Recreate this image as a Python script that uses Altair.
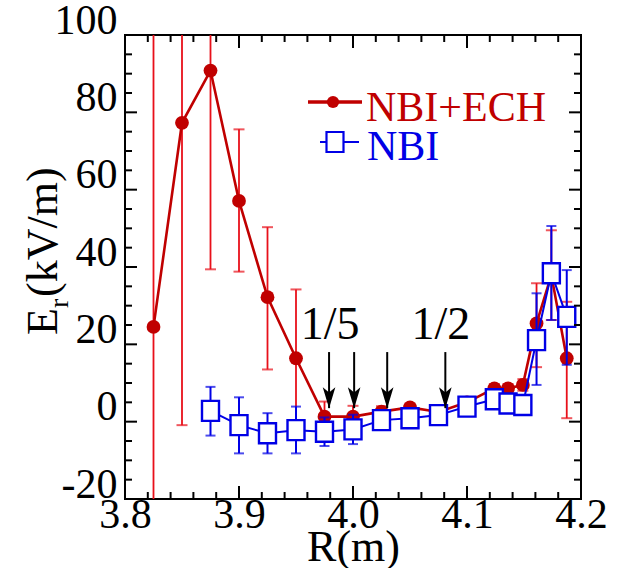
import altair as alt
import pandas as pd

# ---- radial electric field profiles -------------------------------------
# NBI+ECH
r_ech = [3.825, 3.85, 3.875, 3.9, 3.925, 3.95, 3.975, 4.0, 4.025, 4.05,
         4.075, 4.1, 4.124, 4.136, 4.149, 4.161, 4.174, 4.1875]
er_ech = [24.5, 77.3, 90.8, 57.1, 32.2, 16.4, 1.3, 1.3, 2.6, 3.7,
          2.5, 5.0, 8.6, 8.6, 9.5, 25.4, 37.9, 16.4]
lo_ech = [-55.0, -0.9, 39.4, 38.8, 13.5, -1.5, -2.6, -1.5, 1.2, 2.8,
          1.5, 4.0, 7.5, 7.5, 8.0, 14.1, 26.3, 0.9]
hi_ech = [105.0, 156.0, 142.0, 75.6, 50.3, 34.2, 5.2, 4.1, 4.0, 4.6,
          3.5, 6.0, 9.7, 9.7, 11.0, 35.8, 49.5, 31.0]

# NBI only
r_nbi = [3.875, 3.9, 3.925, 3.95, 3.975, 4.0, 4.025, 4.05, 4.075, 4.1,
         4.124, 4.136, 4.149, 4.161, 4.174, 4.1875]
er_nbi = [2.8, -0.9, -3.0, -2.2, -2.6, -2.0, 0.4, 0.9, 1.7, 3.9,
          5.8, 4.7, 4.3, 21.1, 38.4, 27.1]
lo_nbi = [-3.6, -8.2, -8.2, -8.2, -6.3, -5.8, -1.0, -0.5, 0.5, 2.5,
          4.5, 3.4, 3.0, 9.5, 26.3, 14.7]
hi_nbi = [9.0, 6.3, 2.2, 3.9, 1.1, 1.8, 1.8, 2.3, 2.9, 5.3,
          7.1, 6.0, 5.6, 33.2, 50.6, 39.2]

# rational surfaces marked with arrows
arrow_r = [3.979, 4.001, 4.030, 4.081]
arrow_top = 18.0
arrow_tip = 3.5
label_r = [3.980, 4.077]
label_txt = ["1/5", "1/2"]
label_y = 21.5

# axis ticks
x_major = [3.8, 3.9, 4.0, 4.1, 4.2]
x_minor = [3.82, 3.84, 3.86, 3.88, 3.92, 3.94, 3.96, 3.98,
           4.02, 4.04, 4.06, 4.08, 4.12, 4.14, 4.16, 4.18]
y_major = [-20, 0, 20, 40, 60, 80, 100]
y_minor = [-15, -10, -5, 5, 10, 15, 25, 30, 35, 45, 50, 55,
           65, 70, 75, 85, 90, 95]

# ---- styling ---------------------------------------------------------------
W, H = 456, 464
FONT = "'Liberation Serif', 'Times New Roman', Times, serif"
RED = "#c00000"
RED_BAR = "#e8101a"
BLUE = "#0000e6"
SQUARE = "M-0.85,-1H0.85V1H-0.85Z"
ARROWHEAD = "M0,0L-0.6,-2L0,-1.5L0.6,-2Z"

xs = alt.Scale(domain=[3.8, 4.2], nice=False, zero=False)
ys = alt.Scale(domain=[-20, 100], nice=False, zero=False)

x_axis = alt.Axis(values=x_major, labelExpr="format(datum.value, '.1f')",
                  ticks=False, domain=False, grid=False,
                  labelFont=FONT, labelFontSize=42, labelColor="black",
                  labelBaseline="alphabetic", labelPadding=28,
                  labelFlush=False, labelOverlap=False,
                  title="R(m)", titleFont=FONT, titleFontSize=44,
                  titleFontWeight="normal", titleColor="black",
                  titleBaseline="alphabetic", titleY=61, titleX=W / 2)
y_axis = alt.Axis(values=y_major, labelExpr="'' + datum.value",
                  ticks=False, domain=False, grid=False,
                  labelFont=FONT, labelFontSize=42, labelColor="black",
                  labelBaseline="alphabetic", labelPadding=8, labelOffset=-2,
                  labelFlush=False, labelOverlap=False, title="")

ech = pd.DataFrame({"R": r_ech, "Er": er_ech, "lo": lo_ech, "hi": hi_ech})
nbi = pd.DataFrame({"R": r_nbi, "Er": er_nbi, "lo": lo_nbi, "hi": hi_nbi})


def X(field):
    return alt.X(field, type="quantitative", scale=xs, axis=x_axis)


def Y(field):
    return alt.Y(field, type="quantitative", scale=ys, axis=y_axis)


# NBI+ECH series
ech_bars = alt.Chart(ech).mark_rule(color=RED_BAR, strokeWidth=1.8, clip=True).encode(
    x=X("R"), y=Y("lo"), y2="hi")
ech_caps_hi = alt.Chart(ech).mark_tick(color=RED_BAR, orient="horizontal", size=11,
                                       thickness=2, clip=True).encode(x=X("R"), y=Y("hi"))
ech_caps_lo = alt.Chart(ech).mark_tick(color=RED_BAR, orient="horizontal", size=11,
                                       thickness=2, clip=True).encode(x=X("R"), y=Y("lo"))
ech_line = alt.Chart(ech).mark_line(color=RED, strokeWidth=2.6, clip=True).encode(
    x=X("R"), y=Y("Er"))
ech_pts = alt.Chart(ech).mark_point(shape="circle", filled=True, fill=RED, size=190,
                                    opacity=1, clip=True).encode(x=X("R"), y=Y("Er"))

# NBI series
nbi_bars = alt.Chart(nbi).mark_rule(color=BLUE, strokeWidth=2, clip=True).encode(
    x=X("R"), y=Y("lo"), y2="hi")
nbi_caps_hi = alt.Chart(nbi).mark_tick(color=BLUE, orient="horizontal", size=10,
                                       thickness=2, clip=True).encode(x=X("R"), y=Y("hi"))
nbi_caps_lo = alt.Chart(nbi).mark_tick(color=BLUE, orient="horizontal", size=10,
                                       thickness=2, clip=True).encode(x=X("R"), y=Y("lo"))
nbi_line = alt.Chart(nbi).mark_line(color=BLUE, strokeWidth=2, clip=True).encode(
    x=X("R"), y=Y("Er"))
nbi_pts = alt.Chart(nbi).mark_point(shape=SQUARE, filled=True, fill="white", stroke=BLUE,
                                    strokeWidth=2.4, size=400, opacity=1, clip=True).encode(
    x=X("R"), y=Y("Er"))

# arrows and labels
arrows_df = pd.DataFrame({"R": arrow_r, "top": arrow_top, "tip": arrow_tip})
arrow_shaft = alt.Chart(arrows_df).mark_rule(color="black", strokeWidth=2).encode(
    x=X("R"), y=Y("top"), y2="tip")
arrow_head = alt.Chart(arrows_df).mark_point(shape=ARROWHEAD, filled=True, fill="black",
                                             size=440, opacity=1).encode(x=X("R"), y=Y("tip"))
labels_df = pd.DataFrame({"R": label_r, "y": label_y, "t": label_txt})
labels = alt.Chart(labels_df).mark_text(font=FONT, fontSize=46, color="black",
                                        align="center", baseline="alphabetic").encode(
    x=X("R"), y=Y("y"), text="t:N")


# inward tick marks on all four sides
def xticks(vals, length):
    d = pd.DataFrame({"R": vals})
    bottom = alt.Chart(d).mark_rule(color="black", strokeWidth=2).encode(
        x=X("R"), y=alt.value(H), y2=alt.value(H - length))
    top = alt.Chart(d).mark_rule(color="black", strokeWidth=2).encode(
        x=X("R"), y=alt.value(0), y2=alt.value(length))
    return [bottom, top]


def yticks(vals, length):
    d = pd.DataFrame({"Er": vals})
    left = alt.Chart(d).mark_rule(color="black", strokeWidth=2).encode(
        y=Y("Er"), x=alt.value(0), x2=alt.value(length))
    right = alt.Chart(d).mark_rule(color="black", strokeWidth=2).encode(
        y=Y("Er"), x=alt.value(W), x2=alt.value(W - length))
    return [left, right]


ticks = (xticks(x_major, 13) + xticks(x_minor, 7)
         + yticks(y_major, 12) + yticks(y_minor, 7))

# legend
one = pd.DataFrame({"k": [0]})
leg_red_line = alt.Chart(one).mark_rule(color=RED, strokeWidth=3.5).encode(
    x=alt.value(183), x2=alt.value(237), y=alt.value(67))
leg_red_pt = alt.Chart(one).mark_point(shape="circle", filled=True, fill=RED, size=150,
                                       opacity=1).encode(x=alt.value(208), y=alt.value(67))
leg_red_txt = alt.Chart(one).mark_text(text="NBI+ECH", font=FONT, fontSize=42, color=RED,
                                       align="left", baseline="alphabetic").encode(
    x=alt.value(241), y=alt.value(86))
leg_blue_line = alt.Chart(one).mark_rule(color=BLUE, strokeWidth=2).encode(
    x=alt.value(195), x2=alt.value(234), y=alt.value(107))
leg_blue_pt = alt.Chart(one).mark_point(shape=SQUARE, filled=True, fill="white", stroke=BLUE,
                                        strokeWidth=2.2, size=400, opacity=1).encode(
    x=alt.value(210), y=alt.value(107))
leg_blue_txt = alt.Chart(one).mark_text(text="NBI", font=FONT, fontSize=42, color=BLUE,
                                        align="left", baseline="alphabetic").encode(
    x=alt.value(242), y=alt.value(125))

# vertical axis title with subscript
ytitle_E = alt.Chart(one).mark_text(text="E", font=FONT, fontSize=44, color="black",
                                    angle=270, align="left", baseline="alphabetic").encode(
    x=alt.value(-68), y=alt.value(300))
ytitle_r = alt.Chart(one).mark_text(text="r", font=FONT, fontSize=28, color="black",
                                    angle=270, align="left", baseline="alphabetic").encode(
    x=alt.value(-57), y=alt.value(273))
ytitle_unit = alt.Chart(one).mark_text(text="(kV/m)", font=FONT, fontSize=44, color="black",
                                       angle=270, align="left", baseline="alphabetic").encode(
    x=alt.value(-68), y=alt.value(262))

chart = alt.layer(
    ech_bars, ech_caps_hi, ech_caps_lo, ech_line, ech_pts,
    nbi_bars, nbi_caps_hi, nbi_caps_lo, nbi_line, nbi_pts,
    arrow_shaft, arrow_head, labels,
    *ticks,
    leg_red_line, leg_red_pt, leg_red_txt, leg_blue_line, leg_blue_pt, leg_blue_txt,
    ytitle_E, ytitle_r, ytitle_unit,
).properties(
    width=W, height=H,
    padding={"left": 125, "top": 35, "right": 38, "bottom": 69},
    autosize=alt.AutoSizeParams(type="none"),
    background="white",
).configure_view(stroke="black", strokeWidth=2)

chart.save("out.html", embed_options={"renderer": "svg", "actions": False})
